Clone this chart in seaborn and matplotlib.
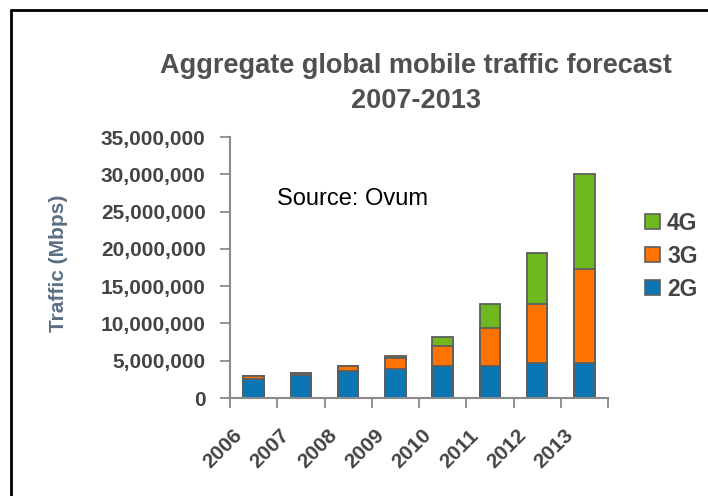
import matplotlib
matplotlib.use("Agg")
from matplotlib import pyplot as plt
from matplotlib.lines import Line2D
from matplotlib.patches import Rectangle
from matplotlib.ticker import FuncFormatter
import matplotlib.transforms as mtransforms
import pandas as pd
import seaborn as sns

# values (Mbps)
years = ['2006', '2007', '2008', '2009', '2010', '2011', '2012', '2013']
traffic_2g = [2600000, 3050000, 3600000, 3850000, 4300000, 4300000, 4750000, 4750000]
traffic_3g = [300000, 350000, 650000, 1500000, 2650000, 5150000, 7850000, 12550000]
traffic_4g = [0, 0, 100000, 300000, 1250000, 3200000, 6800000, 12700000]
series = ['4G', '3G', '2G']

df = pd.DataFrame({'Year': years, '2G': traffic_2g, '3G': traffic_3g, '4G': traffic_4g})
df['2G+3G'] = df['2G'] + df['3G']
df['Total'] = df['2G+3G'] + df['4G']

sns.set_style('white')
plt.rcParams['font.family'] = ['Liberation Sans', 'DejaVu Sans']

c2g = '#0b76b4'
c3g = '#ff7300'
c4g = '#6fb81e'
edge = '#5e5e5e'
txt = '#444444'
axc = '#8a8a8a'

fig = plt.figure(figsize=(7.08, 4.96), dpi=100)
ax = fig.add_axes([230 / 708, 1 - 398 / 496, 378 / 708, 261 / 496])

# stacked bars: draw cumulative totals back to front
for col, c in [('Total', c4g), ('2G+3G', c3g), ('2G', c2g)]:
    sns.barplot(data=df, x='Year', y=col, color=c, width=0.43,
                edgecolor=edge, linewidth=1.3, saturation=1, ax=ax)

ax.set_xlim(-0.5, 7.5)
ax.set_ylim(0, 35000000)
ax.set_yticks(range(0, 35000001, 5000000))
ax.yaxis.set_major_formatter(FuncFormatter(lambda v, p: f'{int(v):,}'))
ax.set_xlabel('')
ax.set_ylabel('Traffic (Mbps)', fontsize=15, fontweight='bold', color='#5b6f84')
ax.yaxis.set_label_coords(-(230 - 68) / 378, (398 - 263) / 261)

for s in ['top', 'right']:
    ax.spines[s].set_visible(False)
for s in ['left', 'bottom']:
    ax.spines[s].set_color(axc)
    ax.spines[s].set_linewidth(1.5)

ax.tick_params(axis='y', length=7, width=1.3, color=axc, labelsize=15,
               labelcolor=txt, pad=10.5, left=True)
for lab in ax.get_yticklabels():
    lab.set_fontweight('bold')

# x ticks at category boundaries, labels at centres
ax.set_xticks([i - 0.5 for i in range(9)], minor=True)
ax.tick_params(axis='x', which='minor', length=7, width=1.3, color=axc, bottom=True)
ax.tick_params(axis='x', which='major', length=0, pad=20, labelsize=15, labelcolor=txt)
ax.set_xticks(range(len(years)))
ax.set_xticklabels(years, rotation=45, ha='right', va='top', rotation_mode='anchor',
                   fontweight='bold')
shift = mtransforms.ScaledTranslation(-21 / 100, 0, fig.dpi_scale_trans)
for lab in ax.get_xticklabels():
    lab.set_transform(lab.get_transform() + shift)

ax.text(0.495, 25900000, 'Source: Ovum', fontsize=17, color='black', va='baseline')

fig.text(416 / 708, 1 - 72.5 / 496, 'Aggregate global mobile traffic forecast',
         ha='center', va='baseline', fontsize=19.5, fontweight='bold', color='#505050')
fig.text(416 / 708, 1 - 108 / 496, '2007-2013',
         ha='center', va='baseline', fontsize=19.5, fontweight='bold', color='#505050')

# legend drawn by hand to keep the row spacing of the original
for i, (name, c) in enumerate(zip(series, (c4g, c3g, c2g))):
    yc = 1 - (221 + 33 * i) / 496
    fig.add_artist(Rectangle((645 / 708, yc - 7.5 / 496), 15 / 708, 15 / 496,
                             facecolor=c, edgecolor=edge, lw=1.2,
                             transform=fig.transFigure))
    fig.text(667 / 708, yc, name, fontsize=16.5, fontweight='bold', color=txt,
             va='center_baseline', ha='left')

# frame lines at top and left of the image
fig.add_artist(Line2D([11 / 708, 11 / 708], [0, 1 - 10 / 496], color='black', lw=2,
                      transform=fig.transFigure))
fig.add_artist(Line2D([11 / 708, 1], [1 - 10 / 496, 1 - 10 / 496], color='black', lw=2,
                      transform=fig.transFigure))

fig.savefig('out.png', dpi=100)
